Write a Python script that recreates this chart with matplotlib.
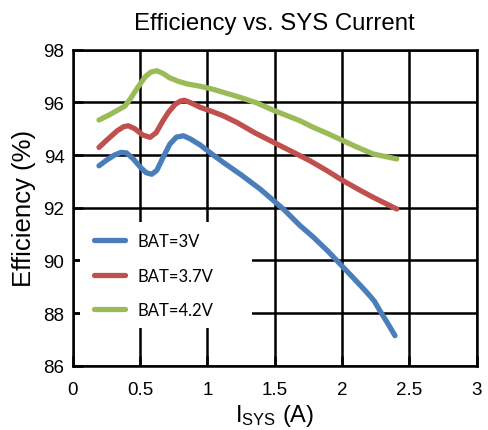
import matplotlib
matplotlib.use("Agg")
import matplotlib.pyplot as plt
from matplotlib.patches import Rectangle

plt.rcParams['font.family'] = ['Liberation Sans', 'DejaVu Sans']
plt.rcParams['mathtext.fontset'] = 'custom'
plt.rcParams['mathtext.rm'] = 'Liberation Sans'
plt.rcParams['mathtext.it'] = 'Liberation Sans:italic'

title = "Efficiency vs. SYS Current"
series_labels = ["BAT=3V", "BAT=3.7V", "BAT=4.2V"]
colors = ["#4A7EBB", "#C0504D", "#9BBB59"]

x_blue = [0.195, 0.25, 0.31, 0.36, 0.40, 0.45, 0.50, 0.545, 0.587, 0.625, 0.67, 0.722, 0.77, 0.822, 0.87, 0.947, 1.03, 1.118, 1.25, 1.391, 1.564, 1.688, 1.787, 1.895, 1.997, 2.09, 2.183, 2.24, 2.282, 2.34, 2.393]
y_blue = [93.59, 93.8, 94.0, 94.10, 94.08, 93.85, 93.55, 93.33, 93.27, 93.42, 93.9, 94.42, 94.68, 94.73, 94.62, 94.38, 94.05, 93.72, 93.25, 92.71, 91.95, 91.32, 90.88, 90.35, 89.80, 89.3, 88.79, 88.45, 88.08, 87.6, 87.14]

x_red = [0.195, 0.26, 0.33, 0.38, 0.413, 0.46, 0.52, 0.574, 0.62, 0.67, 0.71, 0.76, 0.80, 0.829, 0.87, 0.947, 1.03, 1.118, 1.218, 1.35, 1.515, 1.64, 1.762, 1.89, 2.009, 2.12, 2.232, 2.406]
y_red = [94.29, 94.6, 94.92, 95.08, 95.11, 95.0, 94.76, 94.67, 94.85, 95.3, 95.62, 95.92, 96.05, 96.08, 96.0, 95.81, 95.66, 95.49, 95.24, 94.85, 94.42, 94.1, 93.78, 93.4, 93.02, 92.7, 92.39, 91.95]

x_green = [0.195, 0.27, 0.34, 0.388, 0.43, 0.487, 0.54, 0.58, 0.624, 0.67, 0.72, 0.784, 0.85, 0.947, 1.04, 1.118, 1.243, 1.366, 1.49, 1.688, 1.787, 1.90, 2.009, 2.12, 2.232, 2.406]
y_green = [95.33, 95.52, 95.72, 95.86, 96.15, 96.6, 96.98, 97.15, 97.2, 97.1, 96.93, 96.80, 96.70, 96.61, 96.5, 96.38, 96.19, 95.98, 95.7, 95.30, 95.05, 94.8, 94.54, 94.28, 94.04, 93.85]

x_ticks = [0, 0.5, 1, 1.5, 2, 2.5, 3]
x_tick_labels = ["0", "0.5", "1", "1.5", "2", "2.5", "3"]
y_ticks = [86, 88, 90, 92, 94, 96, 98]

fig = plt.figure(figsize=(4.89, 4.31), dpi=100)
ax = fig.add_axes([0.1487, 0.1492, 0.8262, 0.7332])

for xs, ys, c, lab in zip([x_blue, x_red, x_green], [y_blue, y_red, y_green], colors, series_labels):
    ax.plot(xs, ys, color=c, lw=3.8, solid_capstyle='round', solid_joinstyle='round', label=lab, zorder=4)

ax.set_xlim(0, 3)
ax.set_ylim(86, 98)
ax.set_xticks(x_ticks)
ax.set_xticklabels(x_tick_labels)
ax.set_yticks(y_ticks)
ax.set_axisbelow(True)
ax.grid(True, color='black', lw=1.8)
for s in ax.spines.values():
    s.set_linewidth(1.8)
    s.set_color('black')
ax.tick_params(axis='both', direction='in', length=7, width=1.8, labelsize=13.5)
ax.tick_params(axis='y', pad=6)
ax.tick_params(axis='x', pad=11)

ax.add_patch(Rectangle((0.018, 0.119), 0.427, 0.336, transform=ax.transAxes,
                       facecolor='white', edgecolor='none', zorder=3))
leg = ax.legend(loc='center left', bbox_to_anchor=(0.052, 0.285), frameon=False,
                prop={'family': 'Lato', 'size': 12}, handlelength=1.9, handletextpad=0.7,
                labelspacing=1.1, borderpad=0, borderaxespad=0)
leg.set_zorder(5)

ax.set_title(title, fontsize=17.3, pad=15)
ax.set_xlabel(r"I$_{\mathrm{SYS}}$ (A)", fontsize=17, labelpad=3)
ax.set_ylabel("Efficiency (%)", fontsize=18.5, labelpad=5)

fig.savefig("out.png", dpi=100)
